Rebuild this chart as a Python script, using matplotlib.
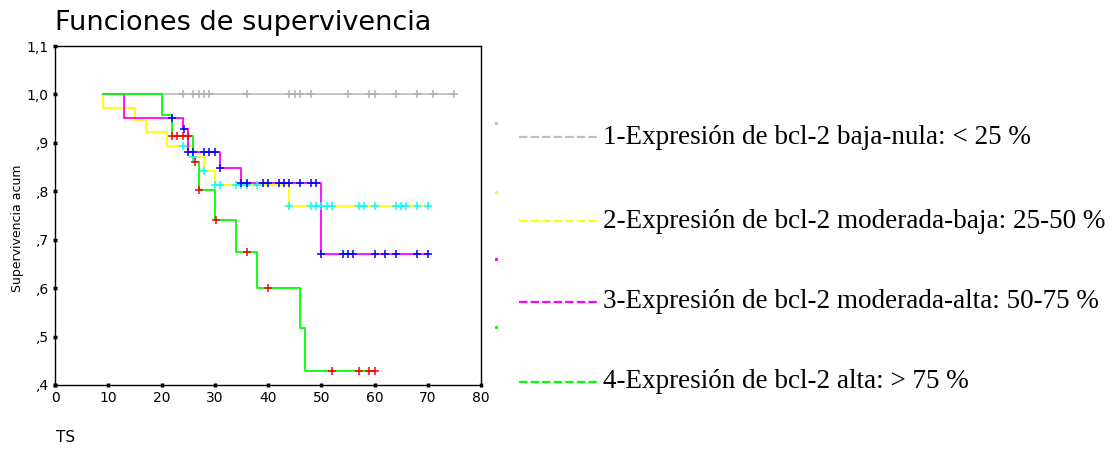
import numpy as np
import matplotlib
matplotlib.use("Agg")
import matplotlib.pyplot as plt
from matplotlib.lines import Line2D

# group 1: bcl-2 baja-nula (no events, only censored)
g1_t = [9, 75]
g1_s = [1.0, 1.0]
g1_cens = [24, 26, 27, 28, 29, 36, 44, 45, 46, 48, 55, 59, 60, 64, 68, 71, 75]

# group 2: moderada-baja
g2_t = [9, 9, 15, 17, 21, 26, 28, 30, 44, 70]
g2_s = [1.0, 0.972, 0.947, 0.922, 0.894, 0.870, 0.841, 0.814, 0.769, 0.769]
g2_cens = [24, 26, 28, 30, 31, 34, 35, 36, 38, 44, 48, 49, 50, 51, 52,
           57, 58, 60, 64, 65, 66, 68, 70]

# group 3: moderada-alta
g3_t = [9, 13, 24, 25, 31, 35, 50, 70]
g3_s = [1.0, 0.952, 0.929, 0.881, 0.848, 0.818, 0.670, 0.670]
g3_cens = [22, 24.2, 25, 26, 28, 29, 30, 31, 35, 36, 39, 40, 42, 43, 44,
           46, 48, 49, 50, 54, 55, 56, 60, 62, 64, 68, 70]

# group 4: alta
g4_t = [9, 20, 22, 26, 27, 30, 34, 38, 46, 47, 60]
g4_s = [1.0, 0.957, 0.915, 0.861, 0.803, 0.741, 0.675, 0.600, 0.517, 0.429, 0.429]
g4_cens = [22, 23, 24, 25, 26.3, 27, 30.2, 36, 40, 52, 57, 59, 60]

labels = ["1-Expresión de bcl-2 baja-nula: < 25 %",
          "2-Expresión de bcl-2 moderada-baja: 25-50 %",
          "3-Expresión de bcl-2 moderada-alta: 50-75 %",
          "4-Expresión de bcl-2 alta: > 75 %"]

x_ticks = [0, 10, 20, 30, 40, 50, 60, 70, 80]
y_ticks = [0.4, 0.5, 0.6, 0.7, 0.8, 0.9, 1.0, 1.1]
y_ticklabels = [",4", ",5", ",6", ",7", ",8", ",9", "1,0", "1,1"]

line_colors = ["#c0c0c0", "#ffff00", "#ff00ff", "#00ff00"]
cens_colors = ["#b0b0b0", "#00ffff", "#0000ff", "#ff0000"]


def level_at(t, s, c):
  t = np.asarray(t)
  s = np.asarray(s)
  idx = np.searchsorted(t, c, side="right") - 1
  return s[idx]


W, H = 1118, 454
fig = plt.figure(figsize=(W / 100, H / 100), dpi=100)
ax = fig.add_axes([55 / W, 1 - 385 / H, (481 - 55) / W, (385 - 46) / H])

groups = [(g1_t, g1_s, g1_cens), (g2_t, g2_s, g2_cens),
          (g3_t, g3_s, g3_cens), (g4_t, g4_s, g4_cens)]

for (t, s, cens), lc in zip(groups, line_colors):
  ax.step(t, s, where="post", color=lc, lw=1.3, zorder=2)

for (t, s, cens), cc in zip(groups, cens_colors):
  ax.plot(cens, level_at(t, s, cens), linestyle="none", marker="+",
          ms=6, mew=1.1, color=cc, zorder=3)

ax.set_xlim(0, 80)
ax.set_ylim(0.4, 1.1)
ax.set_xticks(x_ticks)
ax.set_yticks(y_ticks)
ax.set_yticklabels(y_ticklabels)
ax.tick_params(direction="inout", length=3, width=2.5, labelsize=10,
               colors="black", pad=3)
for sp in ax.spines.values():
  sp.set_linewidth(1.0)
  sp.set_color("black")

fig.text(55 / W, 1 - 23 / H, "Funciones de supervivencia", fontsize=19.5,
         family="DejaVu Sans", va="center", ha="left")
fig.text(18 / W, 1 - 228 / H, "Supervivencia acum", fontsize=9,
         rotation=90, va="center", ha="center")
fig.text(56 / W, 1 - 437 / H, "TS", fontsize=11, va="center", ha="left")

# legend: dashed samples and labels in serif
leg_y = [137, 221, 302, 382]
dot_y = [123, 192, 259, 327]
for lab, lc, yy, dy in zip(labels, line_colors, leg_y, dot_y):
  ln = Line2D([519 / W, 600 / W], [1 - yy / H, 1 - yy / H], color=lc, lw=1.6,
              dashes=(3.8, 1.4), transform=fig.transFigure)
  fig.lines.append(ln)
  fig.text(603 / W, 1 - yy / H, lab, fontsize=19.5, family="Liberation Serif",
           va="center", ha="left")
  fig.lines.append(Line2D([496 / W], [1 - dy / H], color=lc, marker="s",
                          ms=1.2, linestyle="none", transform=fig.transFigure))

fig.savefig("out.png", dpi=100)
